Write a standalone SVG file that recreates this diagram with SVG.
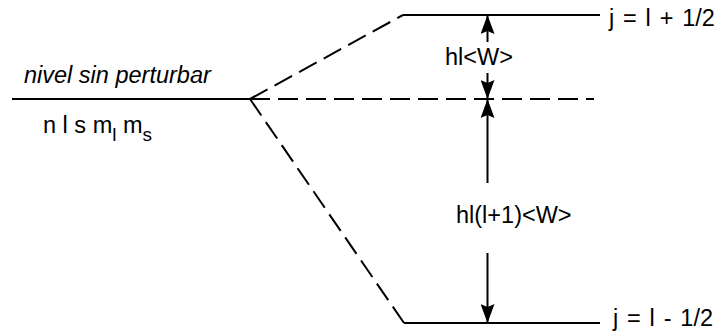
<svg xmlns="http://www.w3.org/2000/svg" width="719" height="332" viewBox="0 0 719 332">
  <style>
    .lvl { stroke: #000; stroke-width: 2; fill: none; }
    .dash { stroke: #000; stroke-width: 2; fill: none; stroke-dasharray: 20 8; }
    .dim { stroke: #000; stroke-width: 2; fill: none; }
    text { font-family: "Liberation Sans", Arial, sans-serif; font-size: 23.5px; fill: #000; }
    .it { font-style: italic; }
    .j { word-spacing: 2.3px; }
  </style>
  <defs>
    <marker id="head" viewBox="0 0 19 14" refX="19" refY="7" markerWidth="19" markerHeight="14" markerUnits="userSpaceOnUse" orient="auto">
      <path d="M0,0 L19,7 L0,14 L3,7 Z" fill="#000"/>
    </marker>
  </defs>

  <g id="unperturbed">
    <line class="lvl" x1="12" y1="99" x2="250" y2="99"/>
    <text class="it" x="24" y="83">nivel sin perturbar</text>
    <text x="43" y="133" font-size="23">n l s m<tspan font-size="19" dy="8">l</tspan><tspan dy="-8"> m</tspan><tspan font-size="19" dy="8">s</tspan></text>
  </g>

  <g id="upper-level">
    <line class="lvl" x1="403" y1="15" x2="600" y2="15"/>
    <text class="j" x="609" y="26">j = l + 1/2</text>
  </g>

  <g id="lower-level">
    <line class="lvl" x1="404" y1="323" x2="600" y2="323"/>
    <text class="j" x="613" y="326">j = l - 1/2</text>
  </g>

  <g id="connectors">
    <line class="dash" x1="250" y1="99" x2="403" y2="15"/>
    <line class="dash" x1="250" y1="99" x2="404" y2="323"/>
    <line class="dash" x1="250" y1="99" x2="594" y2="99"/>
    <line class="dim" x1="487.5" y1="42" x2="487.5" y2="15" marker-end="url(#head)"/>
    <line class="dim" x1="487.5" y1="73" x2="487.5" y2="99" marker-end="url(#head)"/>
    <line class="dim" x1="487.5" y1="183" x2="487.5" y2="99" marker-end="url(#head)"/>
    <line class="dim" x1="487.5" y1="253" x2="487.5" y2="323" marker-end="url(#head)"/>
  </g>

  <g id="labels">
    <text x="445" y="65">hl&lt;W&gt;</text>
    <text x="456" y="223">hl(l+1)&lt;W&gt;</text>
  </g>
</svg>
